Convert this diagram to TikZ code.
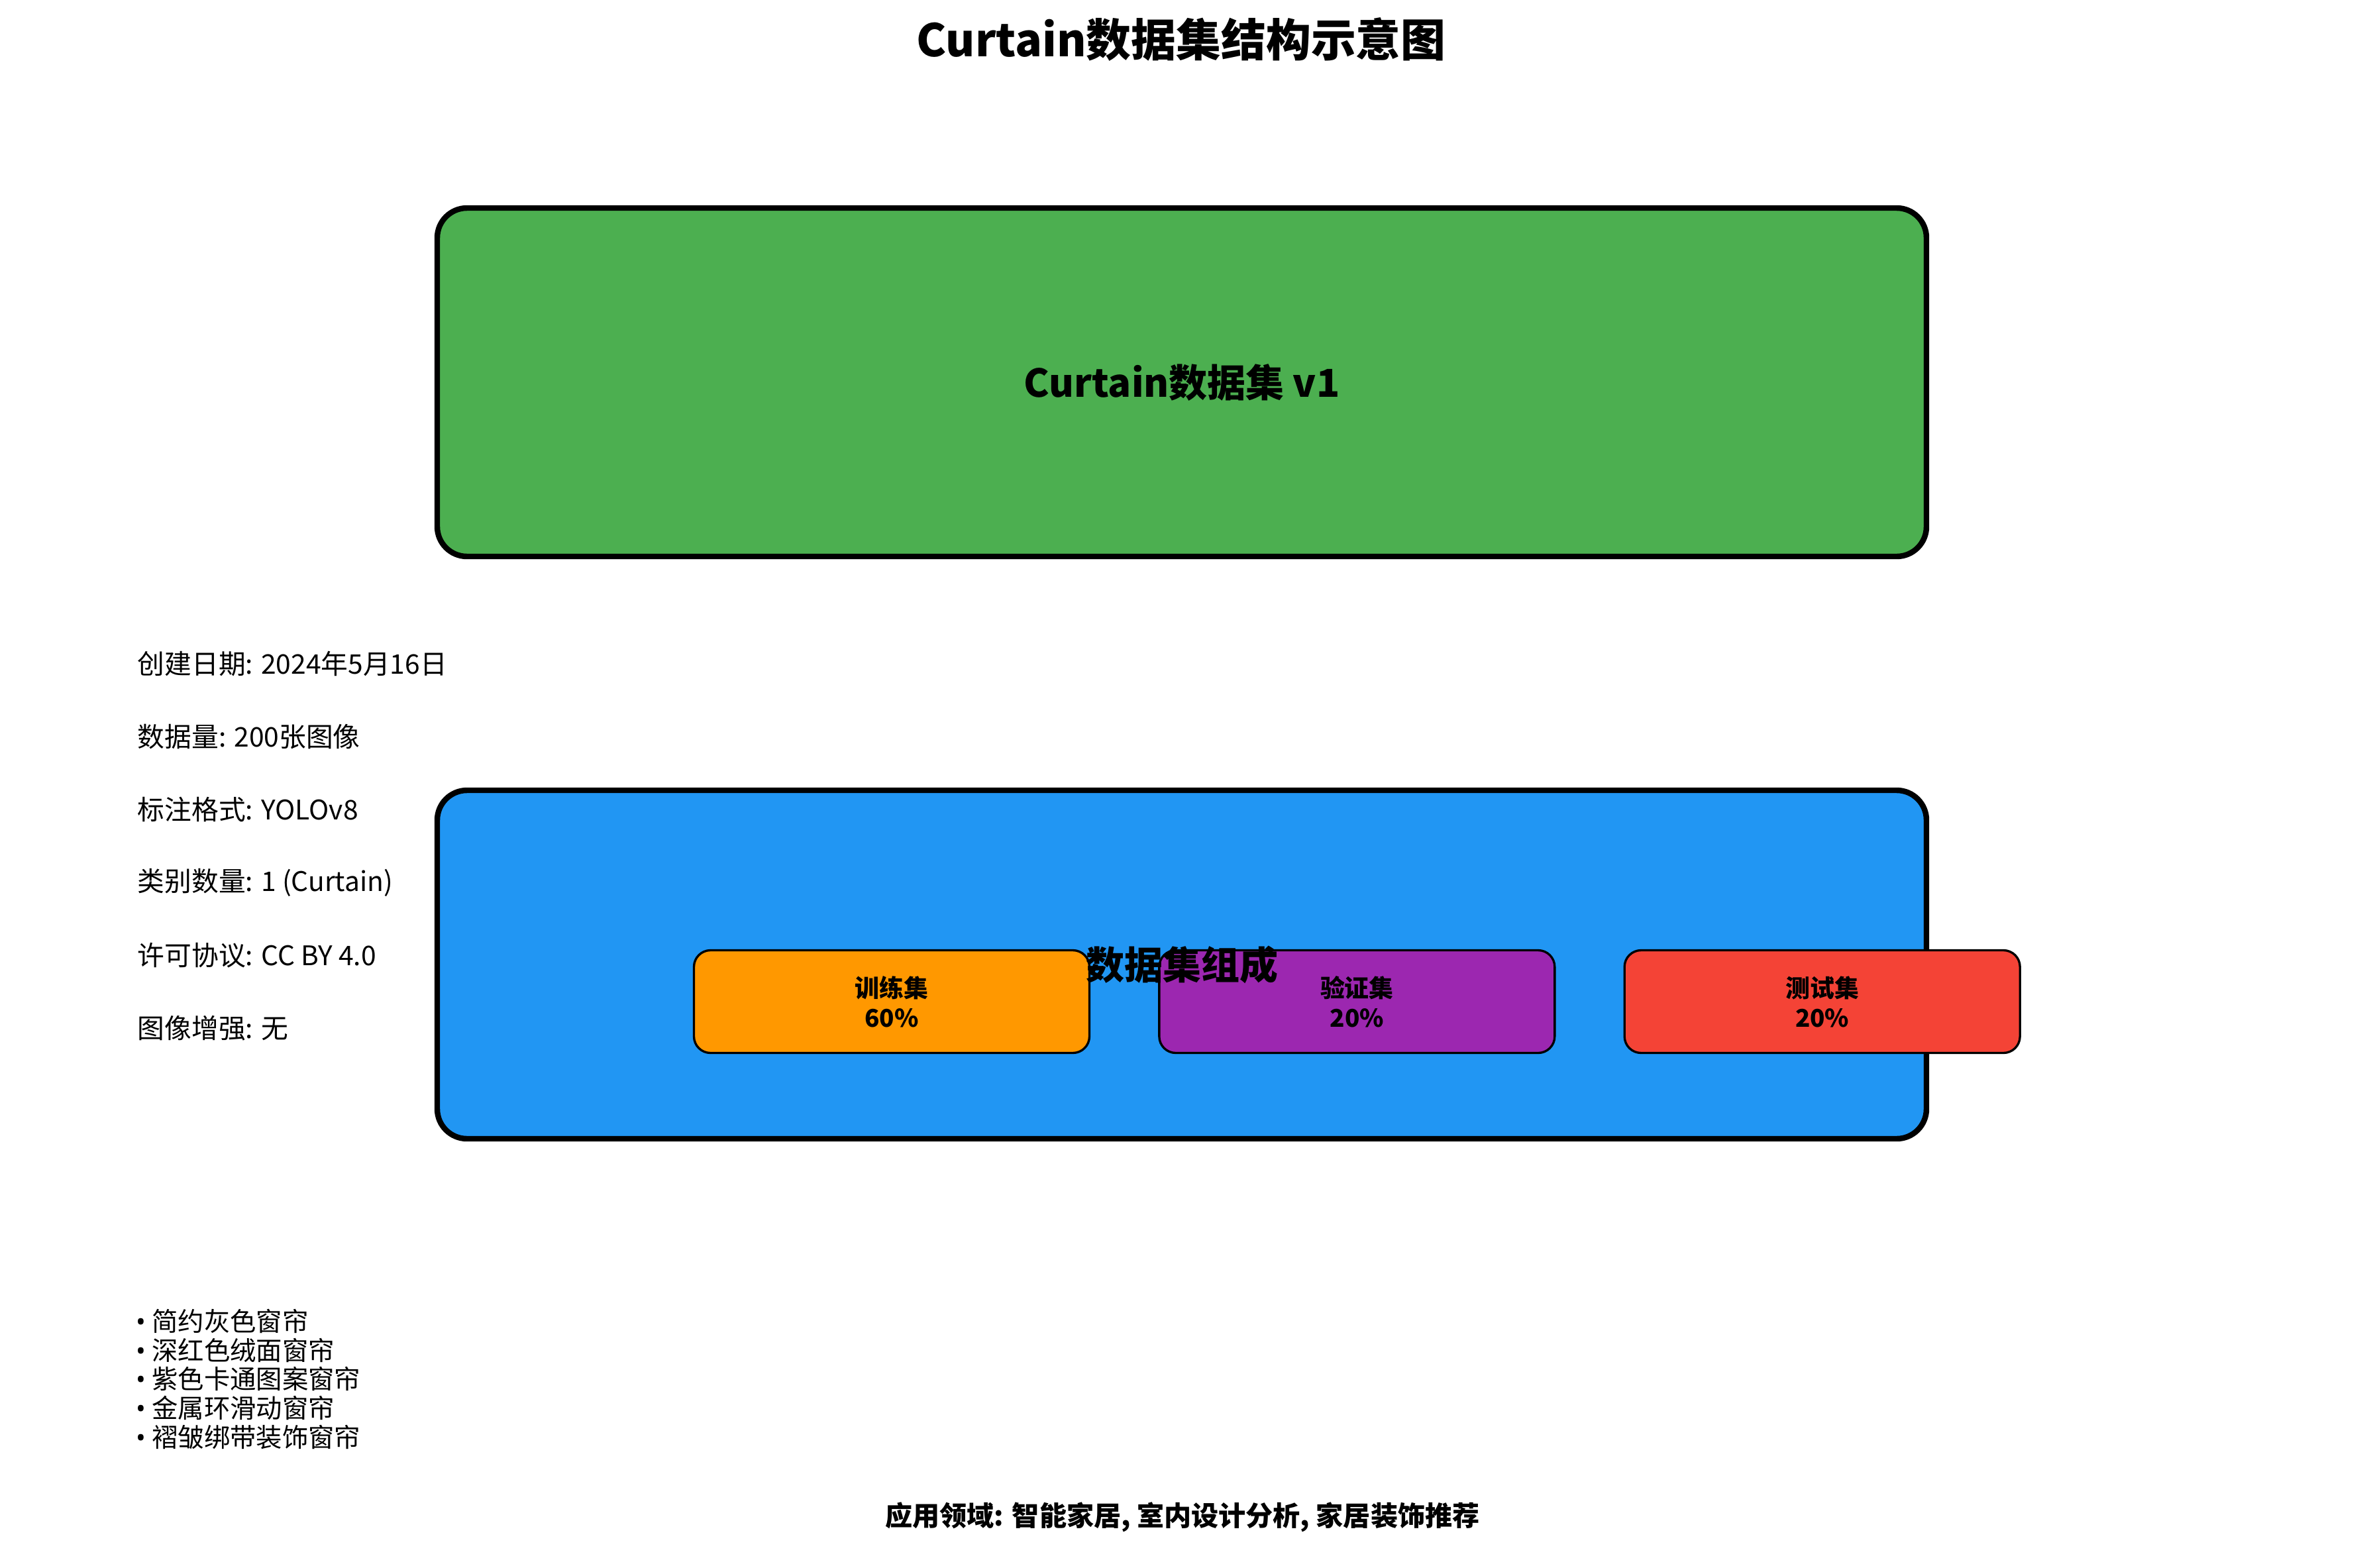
\documentclass[tikz,border=0pt]{standalone}
\usepackage{fontspec}
\setmainfont{Noto Sans CJK SC}
\newfontfamily\dotfont{Noto Sans}
\usepackage{tikz}
\usetikzlibrary{positioning}

\definecolor{verGreen}{HTML}{4CAF50}
\definecolor{compBlue}{HTML}{2196F3}
\definecolor{trainOrange}{HTML}{FF9800}
\definecolor{valPurple}{HTML}{9C27B0}
\definecolor{testRed}{HTML}{F44336}

\newcommand{\itemdot}{{\dotfont •} }

\begin{document}
\begin{tikzpicture}[
    panel/.style={draw, line width=2.4pt, rounded corners=0.45cm, minimum width=22.48cm, minimum height=5.26cm, font=\fontsize{16.5pt}{19pt}\selectfont\bfseries},
    part/.style={draw, line width=0.95pt, rounded corners=0.25cm, minimum width=5.97cm, minimum height=1.55cm, align=center, font=\fontsize{10.5pt}{12.8pt}\selectfont\bfseries},
    info/.style={anchor=west, inner sep=0pt, font=\fontsize{11.6pt}{13pt}\selectfont}
]
\useasboundingbox (0,0) rectangle (35.70,-23.67);

\node[font=\fontsize{19.3pt}{22pt}\selectfont\bfseries] (title) at (17.83,-0.59) {Curtain数据集结构示意图};

\node[panel, fill=verGreen] (ver) at (17.84,-5.77) {Curtain数据集 v1};

% dataset details
\node[info] (date) at (2.07,-10.02) {创建日期: 2024年5月16日};
\node[info] (num) at (2.07,-11.12) {数据量: 200张图像};
\node[info] (fmt) at (2.07,-12.22) {标注格式: YOLOv8};
\node[info] (cls) at (2.07,-13.32) {类别数量: 1 (Curtain)};
\node[info] (lic) at (2.07,-14.42) {许可协议: CC BY 4.0};
\node[info] (aug) at (2.07,-15.52) {图像增强: 无};

\node[panel, fill=compBlue] (comp) at (17.84,-14.56) {};
\node[part, fill=trainOrange] (train) at (13.46,-15.12) {训练集\\60\%};
\node[part, fill=valPurple, right=1.02cm of train] (val) {验证集\\20\%};
\node[part, fill=testRed, right=1.02cm of val] (test) {测试集\\20\%};
\node[font=\fontsize{16.5pt}{19pt}\selectfont\bfseries] (complabel) at (comp.center) {数据集组成};

\node[anchor=west, inner sep=0pt, align=left, font=\fontsize{11.2pt}{12.46pt}\selectfont] (kinds) at (2.05,-20.82) {\itemdot 简约灰色窗帘\\\itemdot 深红色绒面窗帘\\\itemdot 紫色卡通图案窗帘\\\itemdot 金属环滑动窗帘\\\itemdot 褶皱绑带装饰窗帘};

\node[font=\fontsize{11.7pt}{14pt}\selectfont\bfseries] (apps) at (17.85,-22.90) {应用领域: 智能家居, 室内设计分析, 家居装饰推荐};
\end{tikzpicture}
\end{document}
